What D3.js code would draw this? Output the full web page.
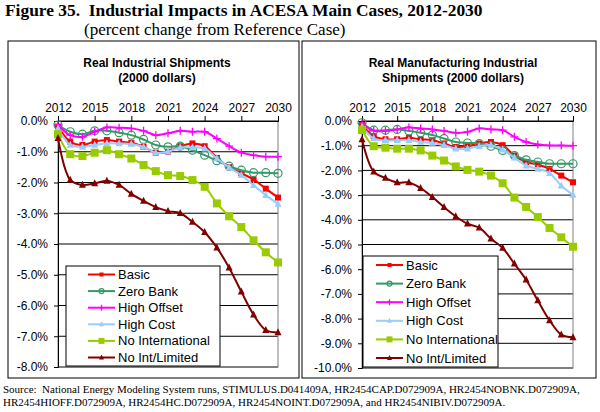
<!DOCTYPE html>
<html>
<head>
<meta charset="utf-8">
<script src="https://cdn.jsdelivr.net/npm/d3@7"></script>
<style>
  body { margin: 0; background: #fff; }
  svg { display: block; }
  .serif { font-family: "Liberation Serif", "Times New Roman", serif; white-space: pre; }
  .sans { font-family: "Liberation Sans", Arial, sans-serif; }
</style>
</head>
<body>
<svg id="chart" width="600" height="412"></svg>
<script>
// years on the x axis
var years = d3.range(2012, 2031);
var xTicks = [2012, 2015, 2018, 2021, 2024, 2027, 2030];

var seriesNames = ['Basic', 'Zero Bank', 'High Offset', 'High Cost', 'No International', 'No Int/Limited'];

// left panel: real industrial shipments (percent change)
var indBasic = [-0.18, -0.67, -0.78, -0.67, -0.62, -0.67, -0.71, -0.84, -1.03, -1.00, -0.82, -0.73, -0.82, -1.20, -1.50, -1.70, -1.90, -2.20, -2.49];
var indZeroBank = [-0.13, -0.35, -0.43, -0.32, -0.32, -0.38, -0.46, -0.60, -0.78, -0.84, -0.82, -0.95, -1.11, -1.29, -1.47, -1.60, -1.68, -1.68, -1.70];
var indHighOffset = [-0.13, -0.46, -0.51, -0.35, -0.21, -0.22, -0.24, -0.32, -0.46, -0.40, -0.32, -0.35, -0.35, -0.57, -0.82, -1.03, -1.11, -1.16, -1.16];
var indHighCost = [-0.24, -0.78, -0.84, -0.78, -0.73, -0.73, -0.75, -0.84, -1.03, -1.00, -0.86, -0.86, -0.89, -1.22, -1.51, -1.76, -2.09, -2.41, -2.70];
var indNoIntl = [-0.43, -1.08, -1.14, -1.03, -0.95, -1.08, -1.22, -1.43, -1.63, -1.76, -1.79, -1.92, -2.14, -2.68, -3.10, -3.45, -3.88, -4.27, -4.60];
var indNoIntLimited = [-0.56, -1.92, -2.08, -2.03, -1.95, -2.08, -2.37, -2.60, -2.80, -2.93, -3.00, -3.28, -3.62, -4.12, -4.77, -5.55, -6.30, -6.80, -6.88];

// right panel: real manufacturing industrial shipments
var mfgBasic = [-0.16, -0.61, -0.74, -0.74, -0.68, -0.74, -0.78, -0.91, -1.05, -1.02, -0.91, -0.85, -0.98, -1.40, -1.66, -1.76, -1.94, -2.21, -2.48];
var mfgZeroBank = [-0.07, -0.37, -0.37, -0.34, -0.40, -0.48, -0.57, -0.71, -0.85, -0.89, -0.91, -1.02, -1.19, -1.40, -1.57, -1.66, -1.73, -1.73, -1.73];
var mfgHighOffset = [-0.10, -0.40, -0.40, -0.34, -0.26, -0.30, -0.34, -0.40, -0.48, -0.44, -0.30, -0.34, -0.37, -0.64, -0.85, -0.95, -0.99, -0.99, -1.00];
var mfgHighCost = [-0.23, -0.71, -0.78, -0.78, -0.78, -0.85, -0.89, -0.98, -1.12, -1.12, -1.02, -0.98, -1.16, -1.49, -1.81, -1.94, -2.11, -2.62, -2.99];
var mfgNoIntl = [-0.37, -1.02, -1.08, -1.12, -1.12, -1.19, -1.40, -1.60, -1.84, -1.98, -2.05, -2.21, -2.52, -3.10, -3.48, -3.89, -4.33, -4.71, -5.09];
var mfgNoIntLimited = [-0.75, -2.05, -2.31, -2.49, -2.49, -2.72, -3.08, -3.49, -3.86, -4.16, -4.32, -4.77, -5.14, -5.78, -6.43, -7.27, -8.07, -8.65, -8.76];

var leftTicks = [0, -1, -2, -3, -4, -5, -6, -7, -8];
var rightTicks = [0, -1, -2, -3, -4, -5, -6, -7, -8, -9, -10];

var styles = [
  { color: '#ff0000', marker: 'square', size: 6 },
  { color: '#339966', marker: 'circle', size: 4 },
  { color: '#ff00ff', marker: 'plus', size: 4 },
  { color: '#99ccff', marker: 'triangle', size: 7 },
  { color: '#99cc00', marker: 'square', size: 8 },
  { color: '#800000', marker: 'triangle', size: 7 }
];

var svg = d3.select('#chart');

// figure title
svg.append('text').attr('class', 'serif')
  .attr('x', 5).attr('y', 16)
  .style('font-size', '17.4px').style('font-weight', 'bold')
  .text('Figure 35.  Industrial Impacts in ACESA Main Cases, 2012-2030');
svg.append('text').attr('class', 'serif')
  .attr('x', 84).attr('y', 35)
  .style('font-size', '17px')
  .text('(percent change from Reference Case)');

function drawMarker(g, st, cx, cy, legend) {
  var s = legend ? Math.max(st.size - 2, 3) : st.size;
  if (st.marker === 'square') {
    g.append('rect').attr('x', cx - s / 2).attr('y', cy - s / 2)
      .attr('width', s).attr('height', s).attr('fill', st.color);
  } else if (st.marker === 'circle') {
    g.append('circle').attr('cx', cx).attr('cy', cy).attr('r', legend ? 2.5 : s)
      .attr('fill', 'none').attr('stroke', st.color).attr('stroke-width', 1.2);
  } else if (st.marker === 'plus') {
    g.append('path').attr('d', 'M' + (cx - s) + ',' + cy + 'H' + (cx + s) + 'M' + cx + ',' + (cy - s) + 'V' + (cy + s))
      .attr('stroke', st.color).attr('stroke-width', 1.3);
  } else if (st.marker === 'triangle') {
    var h = s;
    g.append('path')
      .attr('d', 'M' + cx + ',' + (cy - h * 0.6) + 'L' + (cx + h / 2) + ',' + (cy + h * 0.4) + 'L' + (cx - h / 2) + ',' + (cy + h * 0.4) + 'Z')
      .attr('fill', st.color);
  }
}

function panel(opt) {
  var g = svg.append('g');

  g.append('rect')
    .attr('x', opt.box[0]).attr('y', opt.box[1])
    .attr('width', opt.box[2]).attr('height', opt.box[3])
    .attr('fill', '#fff').attr('stroke', '#000').attr('stroke-width', 1);

  opt.title.forEach(function(t, i) {
    g.append('text').attr('class', 'sans')
      .attr('x', opt.titleX).attr('y', 67 + i * 15)
      .attr('text-anchor', 'middle')
      .style('font-size', '12px').style('font-weight', 'bold')
      .text(t);
  });

  var x = d3.scaleLinear().domain([2012, 2030]).range(opt.xRange);
  var y = d3.scaleLinear().domain([opt.yMin, 0]).range([opt.yBottom, 121]);

  // grid lines
  g.selectAll('.grid').data(opt.yTicks).enter().append('line')
    .attr('x1', opt.xRange[0]).attr('x2', opt.xRange[1])
    .attr('y1', function(d) { return y(d); }).attr('y2', function(d) { return y(d); })
    .attr('stroke', '#000').attr('stroke-width', 1);

  // plot border
  g.append('rect')
    .attr('x', opt.xRange[0]).attr('y', 121)
    .attr('width', opt.xRange[1] - opt.xRange[0]).attr('height', opt.yBottom - 121)
    .attr('fill', 'none').attr('stroke', '#808080');

  // axes
  var xAxis = d3.axisTop(x).tickValues(xTicks).tickFormat(d3.format('d')).tickSize(5).tickPadding(4);
  var ax = g.append('g').attr('transform', 'translate(0,121)').call(xAxis);
  ax.select('.domain').attr('stroke', '#000');
  ax.selectAll('text').attr('class', 'sans').style('font-size', '12px').attr('fill', '#000');

  var yAxis = d3.axisLeft(y).tickValues(opt.yTicks)
    .tickFormat(function(d) { return (d === 0 ? '0.0' : d.toFixed(1)) + '%'; })
    .tickSize(4).tickPadding(6);
  var ay = g.append('g').attr('transform', 'translate(' + opt.xRange[0] + ',0)').call(yAxis);
  ay.select('.domain').attr('stroke', '#000');
  ay.selectAll('text').attr('class', 'sans').style('font-size', '12px').attr('fill', '#000');

  var line = d3.line()
    .x(function(d, i) { return x(years[i]); })
    .y(function(d) { return y(d); })
    .curve(d3.curveCatmullRom);

  opt.data.forEach(function(vals, k) {
    var st = styles[k];
    g.append('path').datum(vals)
      .attr('d', line)
      .attr('fill', 'none').attr('stroke', st.color).attr('stroke-width', 2);
    var mg = g.append('g');
    vals.forEach(function(v, i) { drawMarker(mg, st, x(years[i]), y(v), false); });
  });

  // legend
  var L = opt.legend;
  var lg = g.append('g');
  lg.append('rect').attr('x', L.x).attr('y', L.y).attr('width', L.w).attr('height', L.h)
    .attr('fill', '#fff').attr('stroke', '#000').attr('stroke-width', 1);
  seriesNames.forEach(function(name, k) {
    var st = styles[k];
    var cy = L.first + k * L.step;
    lg.append('line').attr('x1', L.lx).attr('x2', L.lx + 27)
      .attr('y1', cy).attr('y2', cy).attr('stroke', st.color).attr('stroke-width', 2);
    drawMarker(lg, st, L.lx + 13.5, cy, true);
    lg.append('text').attr('class', 'sans')
      .attr('x', L.lx + 30).attr('y', cy + 4.5)
      .style('font-size', '13px')
      .text(name);
  });
}

panel({
  box: [8, 41, 291, 337],
  title: ['Real Industrial Shipments', '(2000 dollars)'],
  titleX: 157,
  xRange: [58, 278],
  yMin: -8, yBottom: 367, yTicks: leftTicks,
  data: [indBasic, indZeroBank, indHighOffset, indHighCost, indNoIntl, indNoIntLimited],
  legend: { x: 66, y: 266, w: 154, h: 100, lx: 88, first: 274.5, step: 16.6 }
});

panel({
  box: [302, 41, 294, 337],
  title: ['Real Manufacturing Industrial', 'Shipments (2000 dollars)'],
  titleX: 453,
  xRange: [362, 573],
  yMin: -10, yBottom: 368, yTicks: rightTicks,
  data: [mfgBasic, mfgZeroBank, mfgHighOffset, mfgHighCost, mfgNoIntl, mfgNoIntLimited],
  legend: { x: 363, y: 256, w: 135, h: 111, lx: 376, first: 265, step: 18.6 }
});

// source note
var src = svg.append('text').attr('class', 'serif').style('font-size', '11px');
src.append('tspan').attr('x', 3).attr('y', 393)
  .text('Source:  National Energy Modeling System runs, STIMULUS.D041409A, HR2454CAP.D072909A, HR2454NOBNK.D072909A,');
src.append('tspan').attr('x', 3).attr('y', 406)
  .text('HR2454HIOFF.D072909A, HR2454HC.D072909A, HR2454NOINT.D072909A, and HR2454NIBIV.D072909A.');
</script>
</body>
</html>
